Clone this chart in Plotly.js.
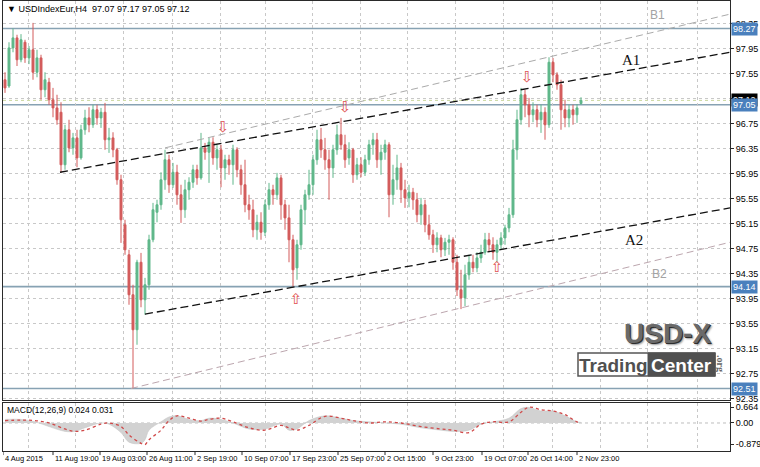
<!DOCTYPE html>
<html><head><meta charset="utf-8">
<script src="https://cdn.plot.ly/plotly-3.0.1.min.js"></script>
<style>html,body{margin:0;padding:0;background:#fff;}#chart{width:760px;height:467px;}</style>
</head><body><div id="chart"></div>
<script>
// ---- candle data (USDIndexEur, H4, resampled) ----
const openP = [
97.45,97.35,97.96,98.12,97.77,98.05,97.80,97.93,97.57,97.80,
97.29,97.41,97.13,97.00,96.93,96.09,96.65,96.36,96.52,96.20,
96.65,96.84,96.73,96.97,96.84,96.93,96.49,96.52,96.33,95.85,
95.13,94.65,94.01,93.45,94.53,93.93,94.17,94.89,95.33,95.45,
95.85,96.17,95.77,95.97,95.61,95.37,95.69,95.81,96.01,95.88,
96.36,96.29,96.45,96.20,96.33,96.04,96.17,96.09,96.33,96.01,
95.77,95.45,95.37,95.05,95.17,95.01,95.45,95.69,95.61,95.88,
95.45,95.24,94.89,94.44,94.81,95.37,95.61,95.77,96.17,96.49,
96.33,96.17,96.04,96.33,96.57,96.41,96.20,96.33,95.93,96.09,
95.97,96.17,96.41,96.49,96.17,96.29,96.41,95.61,95.85,96.04,
95.69,95.56,95.65,95.53,95.29,95.45,95.13,94.97,94.81,94.92,
94.73,94.85,94.89,94.53,94.09,93.96,94.33,94.53,94.44,94.60,
94.69,94.89,94.81,94.69,94.81,94.92,95.08,95.29,96.33,96.81,
97.21,97.05,96.89,96.97,96.81,96.93,96.73,97.73,97.53,97.37,
96.97,96.84,96.97,96.89,97.07];
const highP = [
97.57,98.05,98.27,98.17,98.18,98.09,97.99,98.36,97.93,97.85,
97.57,97.48,97.32,97.21,97.09,96.73,96.81,96.60,96.65,96.73,
96.97,97.01,97.05,97.05,97.00,97.08,96.68,96.61,96.36,95.93,
95.21,94.73,94.17,94.57,94.68,94.28,94.97,95.48,95.53,95.97,
96.33,96.25,96.12,96.09,95.77,95.85,95.89,96.09,96.09,96.60,
96.44,96.52,96.53,96.41,96.41,96.25,96.25,96.41,96.37,96.09,
96.17,95.61,95.53,95.29,95.33,95.53,95.80,95.77,95.96,95.93,
95.53,95.45,94.97,94.89,95.45,95.69,96.01,96.25,96.65,96.68,
96.52,96.33,96.41,96.73,96.84,96.57,96.45,96.36,96.20,96.21,
96.25,96.49,96.60,96.60,96.41,96.49,96.45,96.09,96.25,96.12,
95.85,95.77,95.72,95.64,95.56,95.53,95.29,95.05,95.01,94.97,
94.92,94.97,94.93,94.65,94.41,94.49,94.65,94.65,94.69,94.81,
95.00,95.00,94.93,94.89,95.01,95.13,95.40,96.49,96.97,97.32,
97.29,97.16,97.09,97.05,97.05,97.01,97.81,97.80,97.57,97.45,
97.13,97.05,97.05,97.06,97.17];
const lowP = [
97.24,97.32,97.89,97.67,97.73,97.72,97.70,97.45,97.49,97.13,
97.17,97.05,96.85,96.73,95.96,96.01,96.29,96.25,96.05,96.17,
96.57,96.61,96.68,96.73,96.68,96.33,96.28,96.21,95.77,94.84,
94.65,93.85,92.51,93.21,93.81,93.69,94.09,94.85,95.17,95.37,
95.69,95.64,95.72,95.45,95.16,95.24,95.53,95.72,95.77,95.85,
96.17,95.80,96.09,96.01,95.73,95.85,95.93,95.77,95.89,95.61,
95.33,95.21,94.93,94.89,94.89,94.95,95.37,95.45,95.53,95.21,
95.05,94.53,94.14,94.25,94.73,95.13,95.53,95.61,96.09,96.20,
96.01,95.53,95.88,96.25,96.33,96.04,96.09,95.80,95.85,95.89,
95.91,96.09,96.25,96.04,95.93,96.17,95.25,95.45,95.69,95.48,
95.40,95.41,95.37,95.17,95.13,95.01,94.89,94.68,94.69,94.61,
94.63,94.65,94.41,93.99,93.78,93.83,94.25,94.37,94.37,94.52,
94.65,94.69,94.57,94.53,94.73,94.81,95.01,95.24,96.17,96.73,
96.85,96.69,96.77,96.69,96.60,96.49,96.68,97.41,97.29,96.65,
96.69,96.69,96.73,96.76,97.05];
const closeP = [
97.32,97.96,98.12,97.77,98.09,97.80,97.93,97.57,97.80,97.29,
97.45,97.13,97.00,96.81,96.09,96.65,96.36,96.52,96.20,96.65,
96.84,96.73,96.97,96.84,96.93,96.49,96.52,96.33,95.85,95.21,
94.73,94.01,93.45,94.53,93.93,94.17,94.89,95.37,95.45,95.85,
96.17,95.77,95.97,95.61,95.37,95.69,95.81,96.01,95.88,96.36,
96.29,96.45,96.20,96.33,96.04,96.17,96.09,96.33,96.01,95.77,
95.45,95.37,95.05,95.17,95.01,95.45,95.69,95.61,95.88,95.45,
95.24,94.89,94.41,94.81,95.37,95.61,95.77,96.17,96.49,96.33,
96.17,96.04,96.33,96.57,96.41,96.17,96.33,95.93,96.09,95.97,
96.17,96.41,96.49,96.17,96.29,96.41,95.61,95.85,96.04,95.69,
95.56,95.65,95.53,95.29,95.45,95.13,94.97,94.81,94.92,94.73,
94.85,94.89,94.53,94.09,93.96,94.33,94.53,94.44,94.60,94.69,
94.89,94.81,94.69,94.81,94.92,95.08,95.29,96.33,96.81,97.21,
97.05,96.89,96.97,96.81,96.93,96.73,97.73,97.53,97.37,96.97,
96.84,96.97,96.89,97.00,97.12];

// ---- MACD(12,26,9) ----
const macdIdx    = [0,4,7.5,11,15,17.5,20,24,26,29,31,34,35,36,39,41,43,46,49,51,54,57,61,65,69,71,73,76,80,84,87,91,95,99,104,109,112,116,119,122,126,129,131,134,137,140,143,144];
const macdMain   = [0.15,0.15,0.05,-0.15,-0.35,-0.35,-0.2,0.0,-0.05,-0.4,-0.8,-0.85,-0.7,-0.3,0.05,0.25,0.3,0.15,0.1,0.2,0.15,0.0,-0.25,-0.25,-0.05,-0.3,-0.25,0.1,0.3,0.2,0.1,0.05,0.0,-0.05,-0.2,-0.3,-0.35,-0.3,-0.05,0.05,0.2,0.6,0.65,0.5,0.5,0.3,0.05,0.024];
const macdSignal = [0.10,0.12,0.10,0.0,-0.25,-0.35,-0.3,-0.05,0.0,-0.15,-0.5,-0.85,-0.9,-0.7,-0.3,0.1,0.3,0.2,0.08,0.15,0.2,0.05,-0.2,-0.3,-0.1,-0.2,-0.3,-0.1,0.28,0.2,0.1,0.0,0.05,0.0,-0.15,-0.25,-0.3,-0.4,-0.05,0.05,0.05,0.45,0.66,0.55,0.5,0.35,0.05,0.031];

// ---- axis labels ----
const dateLabels = ['4 Aug 2015','11 Aug 19:00','19 Aug 03:00','26 Aug 11:00','2 Sep 19:00','10 Sep 07:00','17 Sep 23:00','25 Sep 07:00','2 Oct 15:00','9 Oct 23:00','19 Oct 07:00','26 Oct 14:00','2 Nov 23:00'];
const dateIdx    = [-0.5,12,23.75,35.5,47.5,59.25,71.25,83.25,95,107,119.25,130.75,143];
const yTickVals  = [92.35,92.75,93.15,93.55,93.95,94.35,94.75,95.15,95.55,95.95,96.35,96.75,97.15,97.55,97.95,98.35];
const yTickText  = ['92.35','92.75','93.15','93.55','93.95','94.35','94.75','95.15','95.55','95.95','96.35','96.75','','97.55','97.95','98.35'];
const macdTicks  = [0.664,0,-0.879];
const macdTickText = ['0.664','0.00','-0.879'];

// ---- drawn objects ----
const levelPrices = [98.27,97.05,94.14,92.51];
const bidPrice = 97.12;
const trendNames = ['A1','A2','B1','B2'];
const trendIdx   = [[13.75,181.25],[35,181.25],[40,181.25],[31.5,181.25]];
const trendPrice = [[95.97,97.89],[93.70,95.40],[96.36,98.50],[92.51,94.85]];
const trendLabelIdx   = [156.5,157.25,163,163.5];
const trendLabelPrice = [97.77,94.89,98.49,94.34];
const arrowIdx   = [54.5,85,130.5,72.75,123];
const arrowPrice = [96.68,97.00,97.48,93.93,94.44];
const arrowText  = ['⇩','⇩','⇩','⇧','⇧'];

const gridIdx = [5.75,17.5,29.5,41.75,53.75,65,76.75,88.75,100.5,112.5,124.5,136.75,148.75,160.5,173];
const candleIdx = openP.map((_, i) => i);

const FONT = 'Liberation Sans, Arial, sans-serif';
const GRID = '#c8c8c8';
const FRAME = '#2a2a2a';
// pixel -> paper helpers for decorative elements (plot area x 3..730, y 1..451)
const px = x => (x - 3) / 727;
const py = y => (451 - y) / 450;

const traces = [];
traces.push({
  type:'candlestick', x:candleIdx, open:openP, high:highP, low:lowP, close:closeP,
  xaxis:'x', yaxis:'y',
  increasing:{line:{color:'#5fb78a', width:1}, fillcolor:'#5fb78a'},
  decreasing:{line:{color:'#d35b5b', width:1}, fillcolor:'#d35b5b'},
  whiskerwidth:0, hoverinfo:'skip'
});
const trendStyles = {
  A1:{color:'#111', width:1.3, dash:'8px,4px'},
  A2:{color:'#111', width:1.3, dash:'8px,4px'},
  B1:{color:'#aaaaaa', width:1, dash:'7px,4px'},
  B2:{color:'#bca6ae', width:1, dash:'7px,4px'}
};
trendNames.forEach((n, k) => {
  traces.push({type:'scatter', mode:'lines', x:trendIdx[k], y:trendPrice[k], xaxis:'x', yaxis:'y',
    line:trendStyles[n], hoverinfo:'skip'});
});
traces.push({type:'scatter', mode:'text', x:arrowIdx, y:arrowPrice, text:arrowText, xaxis:'x', yaxis:'y',
  textfont:{family:'DejaVu Sans', size:15, color:'#e05050'}, hoverinfo:'skip'});
traces.push({type:'scatter', mode:'lines', x:macdIdx, y:macdMain, xaxis:'x2', yaxis:'y2',
  fill:'tozeroy', fillcolor:'#d2d2d2', line:{color:'#c2c2c2', width:0.5, shape:'spline'}, hoverinfo:'skip'});
traces.push({type:'scatter', mode:'lines', x:macdIdx, y:macdSignal, xaxis:'x2', yaxis:'y2',
  line:{color:'#d04848', width:1.3, dash:'dot', shape:'spline'}, hoverinfo:'skip'});

const shapes = [];
levelPrices.forEach(p => shapes.push({type:'line', xref:'paper', x0:0, x1:1, yref:'y', y0:p, y1:p,
  line:{color:'#87a2b3', width:1.6}, layer:'below'}));
shapes.push({type:'line', xref:'paper', x0:0, x1:1, yref:'y', y0:bidPrice, y1:bidPrice,
  line:{color:'#c9d79c', width:1, dash:'dot'}, layer:'below'});
shapes.push({type:'line', xref:'paper', x0:0, x1:1, yref:'y2', y0:0, y1:0,
  line:{color:'#bdbdbd', width:1, dash:'dot'}, layer:'below'});
dateIdx.forEach(i => shapes.push({type:'line', xref:'x', x0:i, x1:i, yref:'paper', y0:0, y1:-0.009,
  line:{color:FRAME, width:1}}));
// logo boxes
shapes.push({type:'rect', xref:'paper', yref:'paper', x0:px(578), x1:px(715), y0:py(376), y1:py(353),
  fillcolor:'#ffffff', line:{color:'#555', width:1.5}});
shapes.push({type:'rect', xref:'paper', yref:'paper', x0:px(648), x1:px(715), y0:py(376), y1:py(353),
  fillcolor:'#505050', line:{color:'#505050', width:1}});

const annotations = [];
dateLabels.forEach((t, k) => annotations.push({text:t, x:dateIdx[k], xref:'x', y:0, yref:'paper',
  xanchor:'left', yanchor:'top', xshift:0, yshift:-1, showarrow:false, font:{family:FONT, size:7.5, color:'#000'}}));
annotations.push({text:'▼ USDIndexEur,H4  97.07 97.17 97.05 97.12', x:px(5), y:py(9), xref:'paper', yref:'paper',
  xanchor:'left', yanchor:'middle', showarrow:false, font:{family:FONT, size:9, color:'#000'}});
annotations.push({text:'MACD(12,26,9) 0.024 0.031', x:px(5), y:py(410), xref:'paper', yref:'paper',
  xanchor:'left', yanchor:'middle', showarrow:false, font:{family:FONT, size:8.5, color:'#000'}});
// price boxes on the right scale
annotations.push({text:'97.12', x:1, xref:'paper', y:bidPrice, yref:'y', xanchor:'left', yanchor:'middle', xshift:1,
  showarrow:false, bgcolor:'#000', borderpad:1, font:{family:FONT, size:9, color:'#fff'}});
levelPrices.forEach(p => annotations.push({text:p.toFixed(2), x:1, xref:'paper', y:p, yref:'y', xanchor:'left',
  yanchor:'middle', xshift:1, showarrow:false, bgcolor:'#4a80bd', borderpad:1, font:{family:FONT, size:9, color:'#fff'}}));
// trend line labels
trendNames.forEach((n, k) => {
  const isA = n[0] === 'A';
  annotations.push({text:n, x:trendLabelIdx[k], y:trendLabelPrice[k], xref:'x', yref:'y', showarrow:false,
    xanchor:'center', yanchor:'middle',
    font: isA ? {family:'Liberation Serif, serif', size:15, color:'#111'} : {family:FONT, size:12, color:'#a3a3a3'}});
});
// watermark logo
const logo = {xref:'paper', yref:'paper', showarrow:false, xanchor:'center', yanchor:'middle'};
annotations.push(Object.assign({text:'<b>USD-X</b>', x:px(667), y:py(333),
  font:{family:'Liberation Sans', size:28, color:'#6a6a6a', shadow:'1px 1px 0 #2e2e2e, 2px 2px 2px #9a9a9a'}}, logo));
annotations.push(Object.assign({text:'<b>Trading</b>', x:px(613), y:py(365),
  font:{family:'Liberation Sans', size:19, color:'#505050'}}, logo));
annotations.push(Object.assign({text:'<b>Center</b>', x:px(681.5), y:py(365),
  font:{family:'Liberation Sans', size:19, color:'#ffffff'}}, logo));
annotations.push(Object.assign({text:'<b>.org</b>', x:px(721), y:py(363), textangle:90,
  font:{family:'Liberation Serif', size:10, color:'#666'}}, logo));

const axisCommonX = {range:[-0.5,181.25], tickvals:gridIdx, showticklabels:false, ticks:'', showgrid:true,
  gridcolor:GRID, griddash:'dot', gridwidth:1, zeroline:false, showline:true, mirror:true, linecolor:FRAME,
  linewidth:1, rangeslider:{visible:false}, fixedrange:true};
const layout = {
  width:760, height:467, margin:{l:3, r:30, t:1, b:16, pad:0},
  paper_bgcolor:'#ffffff', plot_bgcolor:'#ffffff', showlegend:false,
  font:{family:FONT, size:9, color:'#000'},
  xaxis:Object.assign({domain:[0,1], anchor:'y'}, axisCommonX),
  xaxis2:Object.assign({domain:[0,1], anchor:'y2'}, axisCommonX),
  yaxis:{domain:[0.1133,1], anchor:'x', side:'right', range:[92.326,98.71], tickvals:yTickVals,
    ticktext:yTickText, showgrid:true, gridcolor:GRID, griddash:'dot', ticks:'outside',
    ticklen:3, tickcolor:FRAME, showline:true, mirror:true, linecolor:FRAME, zeroline:false,
    tickfont:{family:FONT, size:9, color:'#000'}, fixedrange:true},
  yaxis2:{domain:[0,0.1067], anchor:'x2', side:'right', range:[-1.168,0.834], tickvals:macdTicks, ticktext:macdTickText,
    showgrid:false, zeroline:false, ticks:'outside', ticklen:3, tickcolor:FRAME, showline:true, mirror:true,
    linecolor:FRAME, tickfont:{family:FONT, size:9, color:'#000'}, fixedrange:true},
  shapes:shapes, annotations:annotations
};
Plotly.newPlot('chart', traces, layout, {staticPlot:true, displayModeBar:false});
</script>
</body></html>
